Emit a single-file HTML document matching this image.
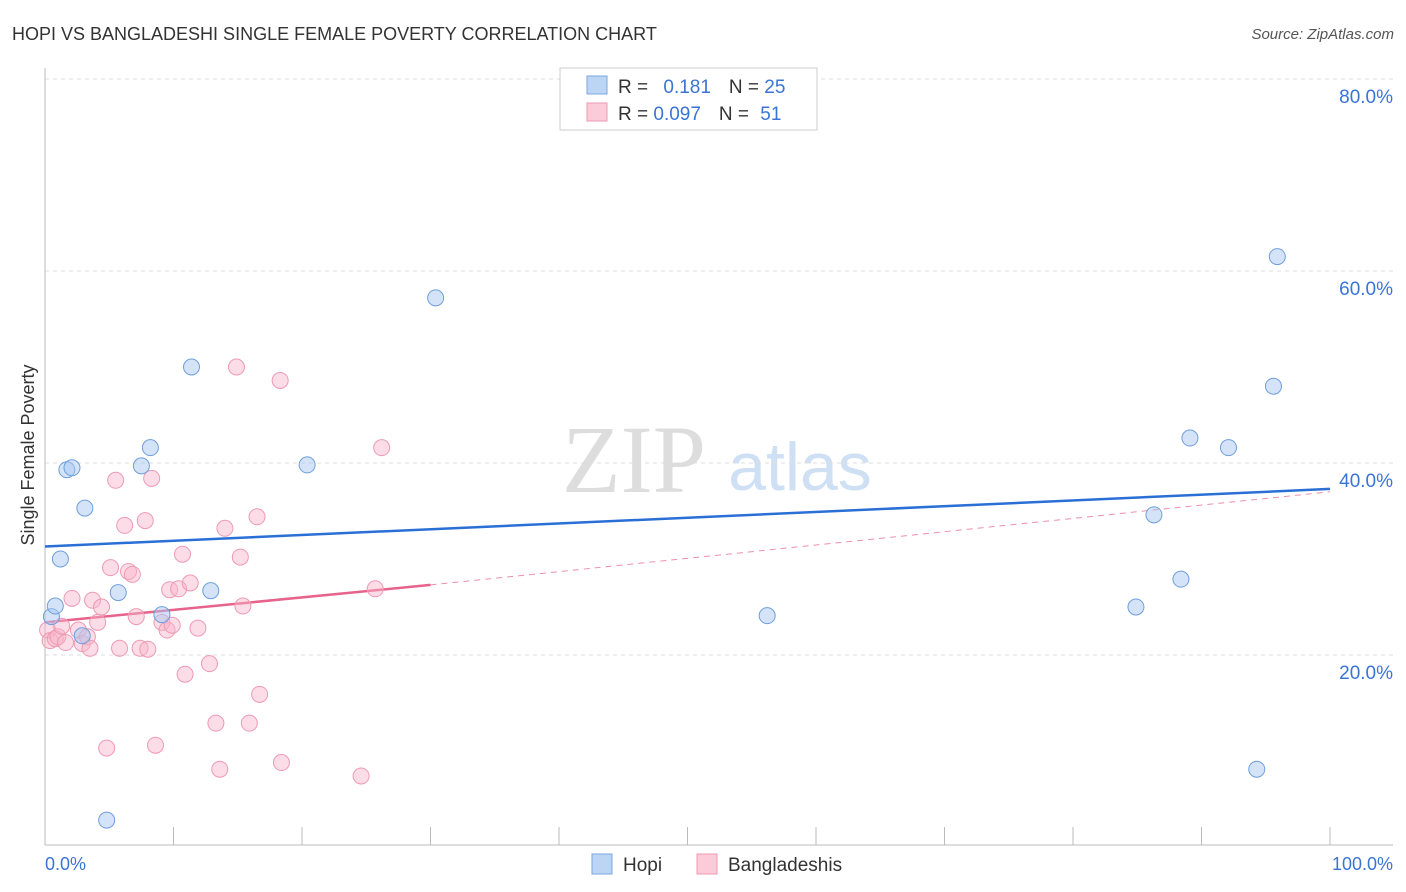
<!DOCTYPE html>
<html><head><meta charset="utf-8"><style>
body{margin:0;background:#fff;font-family:"Liberation Sans",sans-serif}
svg{display:block}
</style></head><body>
<svg id="chart" width="1406" height="892">
<text x="12" y="40" font-size="18" fill="#333">HOPI VS BANGLADESHI SINGLE FEMALE POVERTY CORRELATION CHART</text>
<text x="1394" y="39" font-size="15" fill="#555" font-style="italic" text-anchor="end">Source: ZipAtlas.com</text>
<text x="634" y="492" font-size="96" fill="#ddd" font-family="Liberation Serif" text-anchor="middle">ZIP</text>
<text x="800" y="490" font-size="68" fill="#cfe0f5" text-anchor="middle">atlas</text>
<g id="grid"></g><g id="axes"></g><g id="trend"></g><g id="pts"></g>
<text transform="translate(34,455) rotate(-90)" font-size="18" fill="#333" text-anchor="middle">Single Female Poverty</text>
<text x="45" y="870" font-size="18" fill="#3a74d4">0.0%</text>
<text x="1393" y="870" font-size="18" fill="#3a74d4" text-anchor="end">100.0%</text>
<g>
<rect x="560" y="68" width="257" height="62" fill="#fff" stroke="#ccc"/>
<rect x="587" y="76" width="20" height="18" fill="#bcd5f5" stroke="#7aa7e0"/>
<rect x="587" y="103" width="20" height="18" fill="#fbcbd9" stroke="#ee9ab3"/>
<text x="618" y="93" font-size="19" fill="#333">R = <tspan fill="#3a74d4" dx="10">0.181</tspan><tspan dx="18">N = </tspan><tspan fill="#3a74d4">25</tspan></text>
<text x="618" y="120" font-size="19" fill="#333">R = <tspan fill="#3a74d4">0.097</tspan><tspan dx="18">N = </tspan><tspan fill="#3a74d4" dx="6">51</tspan></text>
</g>
<g>
<rect x="592" y="854" width="20" height="20" fill="#bcd5f5" stroke="#7aa7e0"/>
<text x="623" y="871" font-size="19" fill="#333">Hopi</text>
<rect x="697" y="854" width="20" height="20" fill="#fbcbd9" stroke="#ee9ab3"/>
<text x="728" y="871" font-size="19" fill="#333">Bangladeshis</text>
</g>
</svg>
<script>
const yTicks=[20,40,60,80];
const xTicks=[0,10,20,30,40,50,60,70,80,90,100];
const hopiX=[0.5,0.8,1.2,1.7,2.1,3.1,2.9,4.8,5.7,7.5,8.2,9.1,11.4,12.9,20.4,30.4,56.2,84.9,86.3,88.4,89.1,92.1,94.3,95.6,95.9];
const hopiY=[24.0,25.1,30.0,39.3,39.5,35.3,22.0,2.8,26.5,39.7,41.6,24.2,50.0,26.7,39.8,57.2,24.1,25.0,34.6,27.9,42.6,41.6,8.1,48.0,61.5];
const bangX=[0.2,0.4,0.8,1.0,1.3,1.6,2.1,2.6,2.9,3.3,3.5,3.7,4.1,4.4,4.8,5.1,5.5,5.8,6.2,6.5,6.8,7.1,7.4,7.8,8.0,8.3,8.6,9.1,9.5,9.7,9.9,10.4,10.7,10.9,11.3,11.9,12.8,13.3,13.6,14.0,14.9,15.2,15.4,15.9,16.5,16.7,18.3,18.4,24.6,25.7,26.2];
const bangY=[22.6,21.5,21.7,21.9,23.0,21.3,25.9,22.6,21.2,21.9,20.7,25.7,23.4,25.0,10.3,29.1,38.2,20.7,33.5,28.7,28.4,24.0,20.7,34.0,20.6,38.4,10.6,23.4,22.6,26.8,23.1,26.9,30.5,18.0,27.5,22.8,19.1,12.9,8.1,33.2,50.0,30.2,25.1,12.9,34.4,15.9,48.6,8.8,7.4,26.9,41.6];
const hopiTrend=[[0,31.3],[100,37.3]];
const bangTrendSolid=[[0,23.4],[30,27.3]];
const bangTrendDash=[[30,27.3],[100,37.0]];
const X=v=>45+v*12.85, Y=v=>847-v*9.6;
const NS="http://www.w3.org/2000/svg";
function mk(t,a,p){const e=document.createElementNS(NS,t);for(const k in a)e.setAttribute(k,a[k]);p.appendChild(e);return e;}
const grid=document.getElementById('grid'),axes=document.getElementById('axes'),tr=document.getElementById('trend'),pts=document.getElementById('pts');
yTicks.forEach(t=>{
 const l=mk('line',{x1:45,x2:1393,y1:Y(t),y2:Y(t),stroke:'#ddd','stroke-dasharray':'4,4'},grid);
 
 
 const tx=mk('text',{x:1393,y:Y(t)+24,'font-size':19,fill:'#3a74d4','text-anchor':'end'},grid);
 tx.textContent=t.toFixed(1)+'%';
 
 
});
const xa=mk('line',{x1:45,x2:1393,y1:845,y2:845,stroke:'#bbb'},axes);


const ya=mk('line',{x1:45,x2:45,y1:68,y2:845,stroke:'#bbb'},axes);


xTicks.forEach(t=>{
 const l=mk('line',{x1:X(t),x2:X(t),y1:827,y2:845,stroke:'#bbb'},axes);
 
 
});
function line(seg,col,w,dash,name){
 const l=mk('line',{x1:X(seg[0][0]),y1:Y(seg[0][1]),x2:X(seg[1][0]),y2:Y(seg[1][1]),stroke:col,'stroke-width':w},tr);
 if(dash)l.setAttribute('stroke-dasharray',dash);
 
 
}
line(hopiTrend,'#2a6fd6',2.5,null,'hopi-trend-line');
line(bangTrendDash,'#ec8fac',1,'6,5','bangladeshi-trend-dashed');
line(bangTrendSolid,'#e8638c',2.5,null,'bangladeshi-trend-line');
bangX.forEach((x,i)=>{
 const c=mk('circle',{cx:X(x),cy:Y(bangY[i]),r:8,fill:'rgba(248,180,202,0.45)',stroke:'#ee9ab3','stroke-width':1},pts);
 
 
});
hopiX.forEach((x,i)=>{
 const c=mk('circle',{cx:X(x),cy:Y(hopiY[i]),r:8,fill:'rgba(170,200,242,0.5)',stroke:'#6f9fdc','stroke-width':1},pts);
 
 
});
</script>
</body></html>
